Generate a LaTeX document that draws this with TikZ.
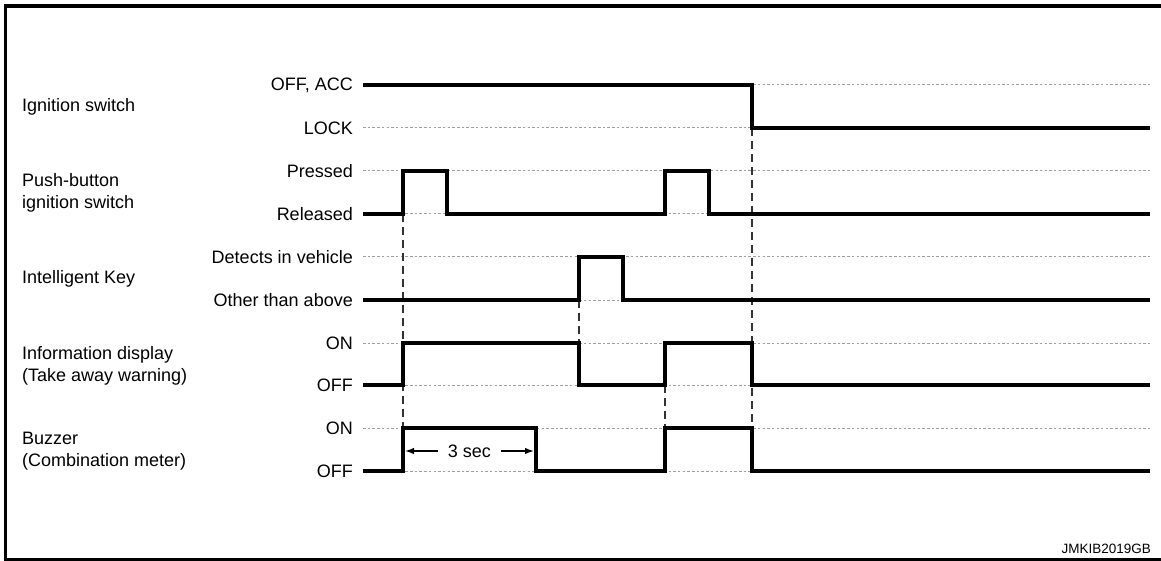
\documentclass[tikz,border=0pt]{standalone}
\usepackage{fontspec}
\setmainfont{Liberation Sans}
\usetikzlibrary{arrows.meta}
\begin{document}
\begin{tikzpicture}[x=1pt,y=-1pt,
  lbl/.style={font=\fontsize{18}{22.5}\selectfont, inner sep=0pt},
  grp/.style={font=\fontsize{18}{22.5}\selectfont, inner sep=0pt, anchor=west, align=left},
  sig/.style={line width=3.2pt, line join=miter, line cap=butt},
  ref/.style={line width=1pt, gray!75, dash pattern=on 2.5pt off 2.2pt},
  guide/.style={line width=1.4pt, black!80, dash pattern=on 8pt off 5pt},
  frame/.style={line width=3.4pt, line cap=rect}]
\useasboundingbox (0,0) rectangle (1161,561);
% frame
\draw[frame] (1161,6) -- (5.5,6) -- (5.5,559.5);
\draw[line width=2.4pt] (4,559.5) -- (1161,559.5);
% level labels
\foreach \y/\t/\n in {85/{OFF, ACC}/la,128/LOCK/lb,171/Pressed/lc,214/Released/ld,257/Detects in vehicle/le,300/Other than above/lf,343/ON/lg,385/OFF/lh,428/ON/li,471/OFF/lj}{
  \node[lbl, anchor=east] (\n) at (353,\y) {\t};
  \draw[ref] (363,\y) -- (1150,\y);
}
% group labels
\node[grp] (g1) at (22,107) {Ignition switch};
\node[grp] (g2) at (22,193) {Push-button\\ignition switch};
\node[grp] (g3) at (22,279) {Intelligent Key};
\node[grp] (g4) at (22,366) {Information display\\(Take away warning)};
\node[grp] (g5) at (22,451) {Buzzer\\(Combination meter)};
% guides
\draw[guide] (403,214) -- (403,428);
\draw[guide] (579,300) -- (579,343);
\draw[guide] (665,385) -- (665,428);
\draw[guide] (752,128) -- (752,428);
% signals
\draw[sig] (363,85) -- (752,85) -- (752,128) -- (1150,128);
\draw[sig] (363,214) -- (403,214) -- (403,171) -- (447,171) -- (447,214) -- (665,214) -- (665,171) -- (709,171) -- (709,214) -- (1150,214);
\draw[sig] (363,300) -- (579,300) -- (579,257) -- (623,257) -- (623,300) -- (1150,300);
\draw[sig] (363,385) -- (403,385) -- (403,343) -- (579,343) -- (579,385) -- (665,385) -- (665,343) -- (752,343) -- (752,385) -- (1150,385);
\draw[sig] (363,471) -- (403,471) -- (403,428) -- (536,428) -- (536,471) -- (665,471) -- (665,428) -- (752,428) -- (752,471) -- (1150,471);
% 3 sec
\coordinate (s1) at (405,451);
\coordinate (s2) at (534,451);
\draw[line width=1.4pt, {Latex[length=9pt,width=6.5pt]}-{Latex[length=9pt,width=6.5pt]}] (s1) -- (s2)
  node[midway, fill=white, font=\fontsize{18}{21}\selectfont, inner xsep=10pt, inner ysep=1pt] (sec) {3 sec};
% code
\node[anchor=east, inner sep=0pt, font=\fontsize{13.5}{15}\selectfont] (code) at (1151,549) {JMKIB2019GB};
\end{tikzpicture}
\end{document}
